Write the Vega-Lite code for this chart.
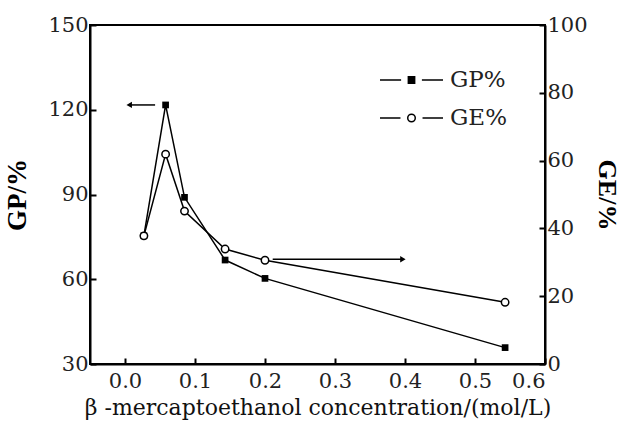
{
  "$schema": "https://vega.github.io/schema/vega-lite/v6.json",
  "width": 455,
  "height": 339,
  "autosize": {"type": "none"},
  "padding": {"left": 90, "top": 25, "right": 77, "bottom": 62},
  "background": "white",
  "config": {
    "view": {"stroke": "black", "strokeWidth": 2},
    "axis": {
      "grid": false,
      "domainColor": "black",
      "domainWidth": 2,
      "tickColor": "black",
      "tickWidth": 2,
      "tickSize": -6
    }
  },
  "datasets": {
    "gp": [
      {"x": 0.027, "v": 75.4},
      {"x": 0.058, "v": 121.7},
      {"x": 0.085, "v": 89.0},
      {"x": 0.143, "v": 66.8},
      {"x": 0.2, "v": 60.3},
      {"x": 0.543, "v": 35.8}
    ],
    "ge": [
      {"x": 0.027, "v": 37.8},
      {"x": 0.058, "v": 61.9},
      {"x": 0.085, "v": 45.1},
      {"x": 0.143, "v": 33.9},
      {"x": 0.2, "v": 30.6},
      {"x": 0.543, "v": 18.2}
    ],
    "arrowGP": [{"x": 0.043, "x2": 0.006, "v": 121.7}],
    "headGP": [{"x": 0.006, "v": 121.7}],
    "arrowGE": [{"x": 0.211, "x2": 0.396, "v": 30.9}],
    "headGE": [{"x": 0.397, "v": 30.9}],
    "leg": [{"x": -1, "s": "GP%"}, {"x": -1, "s": "GE%"}]
  },
  "encoding": {
    "x": {
      "field": "x",
      "type": "quantitative",
      "scale": {"domain": [-0.05, 0.6]},
      "axis": {
        "values": [0, 0.1, 0.2, 0.3, 0.4, 0.5, 0.6],
        "format": ".1f",
        "labelPadding": 12,
        "labelFont": "DejaVu Serif",
        "labelFontSize": 21,
        "labelColor": "#222",
        "title": "β -mercaptoethanol concentration/(mol/L)",
        "titleFont": "DejaVu Serif",
        "titleFontSize": 22,
        "titleFontWeight": "normal",
        "titleColor": "#111",
        "titlePadding": 6
      }
    }
  },
  "layer": [
    {
      "data": {"name": "gp"},
      "encoding": {
        "y": {
          "field": "v",
          "type": "quantitative",
          "scale": {"domain": [30, 150]},
          "axis": {
            "orient": "left",
            "values": [30, 60, 90, 120, 150],
            "labelPadding": 8,
            "labelFont": "DejaVu Serif",
            "labelFontSize": 21,
            "labelColor": "#222",
            "title": "GP/%",
            "titleFont": "Liberation Serif",
            "titleFontSize": 27,
            "titleFontWeight": "bold",
            "titleColor": "black",
            "titlePadding": 16
          }
        }
      },
      "layer": [
        {"mark": {"type": "line", "color": "black", "strokeWidth": 1.5}},
        {"mark": {"type": "point", "shape": "square", "filled": true, "color": "black", "size": 45, "opacity": 1}},
        {
          "data": {"name": "arrowGP"},
          "mark": {"type": "rule", "color": "black", "strokeWidth": 1.5},
          "encoding": {"x2": {"field": "x2"}}
        },
        {
          "data": {"name": "headGP"},
          "mark": {"type": "point", "shape": "triangle-left", "filled": true, "color": "black", "size": 40, "opacity": 1}
        }
      ]
    },
    {
      "data": {"name": "ge"},
      "encoding": {
        "y": {
          "field": "v",
          "type": "quantitative",
          "scale": {"domain": [0, 100]},
          "axis": {
            "orient": "right",
            "values": [0, 20, 40, 60, 80, 100],
            "labelPadding": 8,
            "labelFont": "DejaVu Serif",
            "labelFontSize": 21,
            "labelColor": "#222",
            "title": "GE/%",
            "titleFont": "Liberation Serif",
            "titleFontSize": 26,
            "titleFontWeight": "bold",
            "titleColor": "black",
            "titlePadding": 6
          }
        }
      },
      "layer": [
        {"mark": {"type": "line", "color": "black", "strokeWidth": 1.5}},
        {"mark": {"type": "point", "shape": "circle", "filled": false, "fill": "white", "stroke": "black", "strokeWidth": 1.5, "size": 55, "opacity": 1}},
        {
          "data": {"name": "arrowGE"},
          "mark": {"type": "rule", "color": "black", "strokeWidth": 1.5},
          "encoding": {"x2": {"field": "x2"}}
        },
        {
          "data": {"name": "headGE"},
          "mark": {"type": "point", "shape": "triangle-right", "filled": true, "color": "black", "size": 40, "opacity": 1}
        }
      ]
    },
    {
      "data": {"name": "leg"},
      "mark": {"type": "point", "clip": true, "stroke": "black", "strokeWidth": 1.5, "opacity": 1},
      "encoding": {
        "shape": {
          "field": "s",
          "type": "nominal",
          "scale": {
            "domain": ["GP%", "GE%"],
            "range": [
              "M-1,0L-0.33,0M0.33,0L1,0M-0.1,-0.1L0.1,-0.1L0.1,0.1L-0.1,0.1Z",
              "M-1,0L-0.35,0M0.35,0L1,0M-0.12,0A0.12,0.12,0,1,1,0.12,0A0.12,0.12,0,1,1,-0.12,0Z"
            ]
          },
          "legend": {
            "title": null,
            "orient": "none",
            "legendX": 289,
            "legendY": 36,
            "padding": 0,
            "symbolSize": 3969,
            "clipHeight": 38,
            "rowPadding": 0,
            "labelOffset": 6,
            "labelFont": "DejaVu Serif",
            "labelFontSize": 23,
            "labelColor": "#222",
            "encode": {
              "symbols": {
                "update": {
                  "stroke": {"value": "black"},
                  "strokeWidth": {"value": 1.5},
                  "opacity": {"value": 1}
                }
              }
            }
          }
        },
        "fill": {
          "field": "s",
          "type": "nominal",
          "scale": {"domain": ["GP%", "GE%"], "range": ["black", "white"]},
          "legend": {
            "title": null,
            "orient": "none",
            "legendX": 289,
            "legendY": 36,
            "padding": 0,
            "symbolSize": 3969,
            "clipHeight": 38,
            "rowPadding": 0,
            "labelOffset": 6,
            "labelFont": "DejaVu Serif",
            "labelFontSize": 23,
            "labelColor": "#222",
            "encode": {
              "symbols": {
                "update": {
                  "stroke": {"value": "black"},
                  "strokeWidth": {"value": 1.5},
                  "opacity": {"value": 1}
                }
              }
            }
          }
        }
      }
    }
  ],
  "resolve": {"scale": {"y": "independent"}}
}
